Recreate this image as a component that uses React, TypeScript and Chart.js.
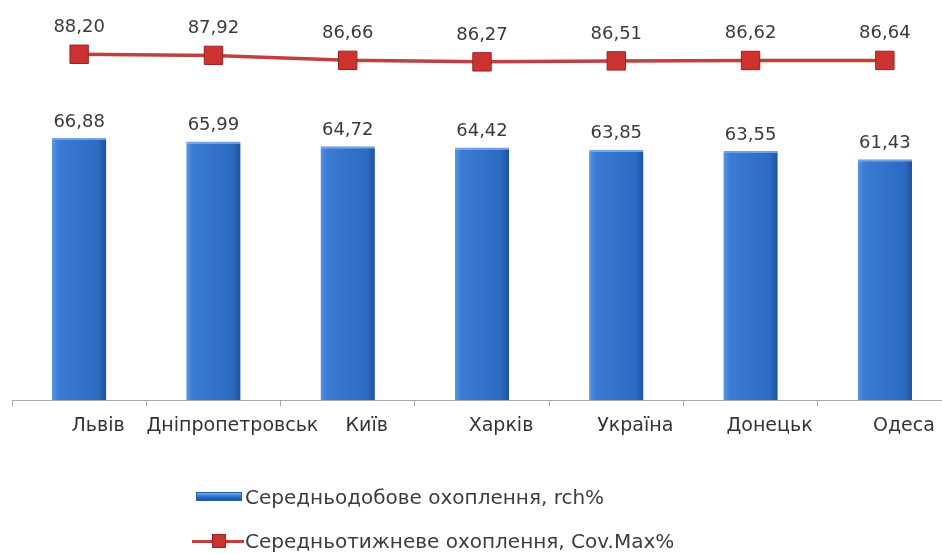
import React, { useEffect, useRef } from "react";
import { Chart, registerables } from "chart.js";

Chart.register(...registerables);

const categories = ["Львів", "Дніпропетровськ", "Київ", "Харків", "Україна", "Донецьк", "Одеса"];
const dailyReach = [66.88, 65.99, 64.72, 64.42, 63.85, 63.55, 61.43];
const weeklyCoverage = [88.2, 87.92, 86.66, 86.27, 86.51, 86.62, 86.64];
const barSeriesName = "Середньодобове охоплення, rch%";
const lineSeriesName = "Середньотижневе охоплення, Cov.Max%";

const fmt = (v: number) => v.toFixed(2).replace(".", ",");

const valueLabels = {
  id: "valueLabels",
  afterDatasetsDraw(chart: any) {
    const ctx = chart.ctx;
    ctx.save();
    ctx.font = "18px 'DejaVu Sans', sans-serif";
    ctx.fillStyle = "#3a3a3a";
    ctx.textAlign = "center";
    ctx.textBaseline = "middle";
    chart.data.datasets.forEach((ds: any, di: number) => {
      const meta = chart.getDatasetMeta(di);
      meta.data.forEach((el: any, i: number) => {
        const off = ds.type === "line" ? 27 : 16;
        ctx.fillText(fmt(ds.data[i]), el.x, el.y - off);
      });
    });
    ctx.restore();
  },
};

export default function App() {
  const ref = useRef<HTMLCanvasElement>(null);
  useEffect(() => {
    const cv = ref.current!;
    const chart = new Chart(cv, {
      type: "bar",
      data: {
        labels: categories,
        datasets: [
          {
            type: "line",
            label: lineSeriesName,
            data: weeklyCoverage,
            borderColor: "#C0403E",
            borderWidth: 3.5,
            pointStyle: "rect",
            pointRadius: 13,
            pointHoverRadius: 13,
            pointBackgroundColor: "#CC3330",
            pointBorderColor: "#9A2222",
            pointBorderWidth: 1,
            fill: false,
            order: 0,
          } as any,
          {
            type: "bar",
            label: barSeriesName,
            data: dailyReach,
            backgroundColor: (c: any) => {
              const x = c.chart.scales && c.chart.scales.x;
              if (!x || c.dataIndex === undefined) return "#2F6EC4";
              const cx = x.getPixelForValue(c.dataIndex);
              const w = (x.width / categories.length) * 0.405;
              if (!isFinite(cx) || !isFinite(w) || w <= 0) return "#2F6EC4";
              const g = c.chart.ctx.createLinearGradient(cx - w / 2, 0, cx + w / 2, 0);
              g.addColorStop(0, "#5A97E2");
              g.addColorStop(0.12, "#3A7BD4");
              g.addColorStop(0.85, "#2D6BC2");
              g.addColorStop(1, "#1D52A0");
              return g;
            },
            borderColor: "#6FA3E6",
            borderWidth: { top: 2, left: 0, right: 0, bottom: 0 },
            borderSkipped: "bottom",
            categoryPercentage: 1,
            barPercentage: 0.405,
            order: 1,
          } as any,
        ],
      },
      options: {
        responsive: false,
        animation: false,
        layout: { autoPadding: false, padding: { left: 12, right: 10, top: 8, bottom: 109 } },
        plugins: { legend: { display: false }, tooltip: { enabled: false } },
        scales: {
          x: {
            offset: true,
            grid: {
              display: true,
              drawOnChartArea: false,
              drawTicks: true,
              tickLength: 6,
              color: "#A8A8A8",
            },
            border: { display: true, color: "#A8A8A8", width: 1 },
            ticks: {
              color: "#333333",
              font: { family: "'DejaVu Sans', sans-serif", size: 19 },
              padding: 8,
              labelOffset: 19,
              maxRotation: 0,
              autoSkip: false,
            },
          },
          y: { display: false, min: 0, max: 100 },
        },
      },
      plugins: [valueLabels],
    });
    chart.update();
    return () => chart.destroy();
  }, []);

  const textStyle: React.CSSProperties = {
    position: "absolute",
    left: 245,
    fontFamily: "'DejaVu Sans', sans-serif",
    fontSize: 20,
    color: "#3c3c3c",
    lineHeight: "24px",
    whiteSpace: "nowrap",
  };

  return (
    <div style={{ position: "fixed", left: 0, top: 0, width: 942, height: 554, overflow: "hidden", background: "#fff" }}>
      <canvas ref={ref} width={962} height={554} style={{ position: "absolute", left: 0, top: 0 }} />
      <div
        style={{
          position: "absolute",
          left: 196,
          top: 492,
          width: 46,
          height: 9,
          background: "linear-gradient(#7FB0EC, #3375CC 45%, #1D52A0)",
          border: "1px solid #2A5EA8",
          boxSizing: "border-box",
        }}
      />
      <div style={{ ...textStyle, top: 485 }}>{barSeriesName}</div>
      <div style={{ position: "absolute", left: 192, top: 539.5, width: 52, height: 3, background: "#C0403E" }} />
      <div
        style={{
          position: "absolute",
          left: 212,
          top: 534,
          width: 14,
          height: 14,
          background: "#CC3330",
          border: "1px solid #9A2222",
          boxSizing: "border-box",
        }}
      />
      <div style={{ ...textStyle, top: 529 }}>{lineSeriesName}</div>
    </div>
  );
}
